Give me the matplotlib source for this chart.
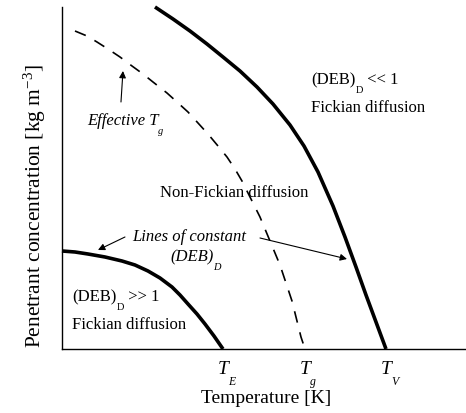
import matplotlib
matplotlib.use('Agg')
import matplotlib.pyplot as plt

plt.rcParams['font.family'] = 'Liberation Serif'
plt.rcParams['mathtext.fontset'] = 'custom'
plt.rcParams['mathtext.rm'] = 'Liberation Serif'
plt.rcParams['mathtext.it'] = 'Liberation Serif:italic'

# Curves (arbitrary temperature / concentration units)
# effective Tg (dashed)
tg_temp = [13, 25, 35, 46, 58, 70, 81, 91, 105, 115, 126, 136, 146, 156, 165, 173, 180,
           186, 192, 198, 203, 208, 213, 218, 222, 226, 230, 233, 236, 239, 243]
tg_conc = [318, 313, 307, 300, 292, 283, 275, 267, 256, 247, 237, 226, 215, 203, 192, 180, 168,
           156, 144, 132, 120, 108, 96, 84, 72, 60, 48, 36, 24, 12, 0]

# line of constant (DEB)_D, upper boundary (right)
high_temp = [93, 111, 128, 145, 161, 178, 195, 211, 228, 242, 256, 271, 283, 294, 304, 314, 324]
high_conc = [342, 330, 318, 305, 292, 278, 262, 245, 224, 203, 177, 143, 112, 82, 54, 27, 0]

# line of constant (DEB)_D, lower boundary (bottom left)
low_temp = [0, 13, 26, 43, 60, 73, 86, 98, 110, 118, 126, 135, 143, 152, 161]
low_conc = [98, 97, 95, 92, 88, 84, 78, 71, 62, 54, 45, 35, 25, 13, 0]

tick_pos = [161, 243, 324]
tick_subs = ['E', 'g', 'V']

fig = plt.figure(figsize=(4.66, 4.14), dpi=100)
ax = fig.add_axes([0.133, 0.1546, 0.867, 0.8261])
ax.set_xlim(0, 404)
ax.set_ylim(0, 342)

ax.plot(tg_temp, tg_conc, color='black', lw=1.2, dashes=(7, 6), clip_on=False)
ax.plot(high_temp, high_conc, color='black', lw=2.6, solid_capstyle='butt',
        solid_joinstyle='round', clip_on=False)
ax.plot(low_temp, low_conc, color='black', lw=2.6, solid_capstyle='butt',
        solid_joinstyle='round', clip_on=False)

for side in ['top', 'right']:
    ax.spines[side].set_visible(False)
for side in ['left', 'bottom']:
    ax.spines[side].set_linewidth(1.0)
ax.set_xticks([])
ax.set_yticks([])


def with_sub(x, y, main, sub, after='', size=12, sub_size=7.5, style='normal', **kw):
    # main text, then a dropped subscript, then the rest on the main baseline
    t = ax.annotate(main, xy=(x, y), fontsize=size, style=style, **kw)
    s = ax.annotate(sub, xy=(1, 0.15), xycoords=t, fontsize=sub_size, style=style,
                    ha='left', va='top')
    if after:
        ax.annotate(after, xy=(1, 0), xycoords=(s, t), fontsize=size, style=style,
                    ha='left', va='bottom')
    return t


# temperature markers under the axis
for pos, sub in zip(tick_pos, tick_subs):
    t = ax.annotate('T', xy=(pos, 0), xycoords=('data', 'axes fraction'),
                    xytext=(0, -8), textcoords='offset points',
                    ha='center', va='top', fontsize=14, style='italic', annotation_clip=False)
    ax.annotate(sub, xy=(1, 0.12), xycoords=t, fontsize=8.5, style='italic', ha='left', va='top')

# region labels
with_sub(249, 270, '(DEB)', 'D', ' << 1', va='center')
ax.text(249, 242, 'Fickian diffusion', fontsize=12, va='center')
ax.text(98, 157, 'Non-Fickian diffusion', fontsize=12, va='center')
with_sub(10, 53, '(DEB)', 'D', ' >> 1', va='center')
ax.text(10, 25, 'Fickian diffusion', fontsize=12, va='center')

# annotations with arrows
with_sub(25, 225, 'Effective T', 'g', style='italic', va='baseline')
ax.annotate('', xy=(61, 278), xytext=(59, 247),
            arrowprops=dict(arrowstyle='-|>', color='black', lw=0.8,
                            mutation_scale=10, shrinkA=0, shrinkB=0))

ax.text(70, 113, 'Lines of constant', fontsize=12, style='italic', va='center')
with_sub(108, 93, '(DEB)', 'D', style='italic', va='center')
ax.annotate('', xy=(36, 99), xytext=(63, 112),
            arrowprops=dict(arrowstyle='-|>', color='black', lw=0.8,
                            mutation_scale=10, shrinkA=0, shrinkB=0))
ax.annotate('', xy=(285, 90), xytext=(198, 111),
            arrowprops=dict(arrowstyle='-|>', color='black', lw=0.8,
                            mutation_scale=10, shrinkA=0, shrinkB=0))

ax.set_xlabel('Temperature [K]', fontsize=14, va='center')
ax.xaxis.set_label_coords(0.505, -0.143)
ax.set_ylabel('Penetrant concentration [kg m$^{-3}$]', fontsize=15.5, va='center')
ax.yaxis.set_label_coords(-0.067, 0.42)

fig.savefig('out.png', dpi=100)
